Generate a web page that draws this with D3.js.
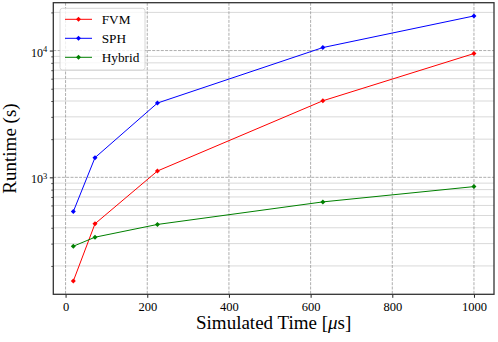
<!DOCTYPE html>
<html>
<head>
<meta charset="utf-8">
<script src="https://cdn.jsdelivr.net/npm/d3@7"></script>
<style>
  body { margin: 0; background: #fff; }
  svg { display: block; font-family: "Liberation Serif", "Times New Roman", serif; }
</style>
</head>
<body>
<div id="chart"></div>
<script>
// simulated time (us) for each run
const simTimes = [19, 72, 225, 630, 1000]
const fvm = [152, 430, 1122, 4017, 9470]
const sph = [537, 1429, 3855, 10560, 18750]
const hybrid = [286, 337, 425, 640, 845]
const xTicks = [0, 200, 400, 600, 800, 1000]
const yMajor = [1e3, 1e4]
const seriesNames = ['FVM', 'SPH', 'Hybrid']
const seriesColors = ['#ff0000', '#0000ff', '#008000']

const W = 498, H = 342
const margin = { top: 2.7, right: 4, bottom: 47.7, left: 53.3 }
const width = W - margin.left - margin.right
const height = H - margin.top - margin.bottom

const series = [fvm, sph, hybrid].map((vals, i) => ({
    name: seriesNames[i],
    color: seriesColors[i],
    points: vals.map((v, j) => ({ x: simTimes[j], y: v }))
}))

// matplotlib-like 5% padding
const xExt = d3.extent(simTimes)
const xPad = (xExt[1] - xExt[0]) * 0.05
const allY = [].concat(fvm, sph, hybrid)
const lyMin = Math.log10(d3.min(allY)), lyMax = Math.log10(d3.max(allY))
const lyPad = (lyMax - lyMin) * 0.05

const x = d3.scaleLinear()
    .domain([xExt[0] - xPad, xExt[1] + xPad])
    .range([0, width])
const y = d3.scaleLog()
    .domain([Math.pow(10, lyMin - lyPad), Math.pow(10, lyMax + lyPad)])
    .range([height, 0])

// minor ticks 2..9 per decade inside the domain
const yMinor = []
for (let e = 1; e <= 5; e++) {
    for (let m = 2; m <= 9; m++) {
        const v = m * Math.pow(10, e)
        if (v >= y.domain()[0] && v <= y.domain()[1]) yMinor.push(v)
    }
}

const svg = d3.select('#chart').append('svg')
    .attr('width', W)
    .attr('height', H)
const g = svg.append('g')
    .attr('transform', 'translate(' + margin.left + ',' + margin.top + ')')

// grid
g.append('g').selectAll('line')
    .data(yMinor).enter().append('line')
    .attr('x1', 0).attr('x2', width)
    .attr('y1', d => y(d)).attr('y2', d => y(d))
    .attr('stroke', '#d9d9d9').attr('stroke-width', 1)

g.append('g').selectAll('line')
    .data(yMajor).enter().append('line')
    .attr('x1', 0).attr('x2', width)
    .attr('y1', d => y(d)).attr('y2', d => y(d))
    .attr('stroke', '#999').attr('stroke-width', 0.8)
    .attr('stroke-dasharray', '3,1.3')

g.append('g').selectAll('line')
    .data(xTicks).enter().append('line')
    .attr('x1', d => x(d)).attr('x2', d => x(d))
    .attr('y1', 0).attr('y2', height)
    .attr('stroke', '#999').attr('stroke-width', 0.8)
    .attr('stroke-dasharray', '3,1.3')

// axes
const xAxis = g.append('g')
    .attr('transform', 'translate(0,' + height + ')')
    .call(d3.axisBottom(x).tickValues(xTicks).tickSize(3.5).tickPadding(4.5).tickFormat(d3.format('d')))
    .attr('font-family', null)
    .attr('font-size', null)
xAxis.select('.domain').remove()
xAxis.selectAll('text').style('font-size', '12.5px').attr('fill', '#000')
xAxis.selectAll('line').attr('stroke', '#222')

const yAxis = g.append('g')
    .call(d3.axisLeft(y).tickValues(yMajor).tickSize(3.5).tickFormat(''))
    .attr('font-family', null)
    .attr('font-size', null)
yAxis.select('.domain').remove()
yAxis.selectAll('line').attr('stroke', '#222')
yAxis.selectAll('.tick').append('text')
    .attr('x', -6)
    .attr('dy', '0.34em')
    .attr('text-anchor', 'end')
    .attr('fill', '#000')
    .each(function (d) {
        const t = d3.select(this)
        t.append('tspan').style('font-size', '12px').text('10')
        t.append('tspan').style('font-size', '8.5px').attr('dy', '-0.55em')
            .text(Math.round(Math.log10(d)))
    })

const yMinorAxis = g.append('g')
    .call(d3.axisLeft(y).tickValues(yMinor).tickSize(2).tickFormat(''))
yMinorAxis.select('.domain').remove()
yMinorAxis.selectAll('line').attr('stroke', '#222').attr('stroke-width', 0.8)

// frame
g.append('rect')
    .attr('width', width).attr('height', height)
    .attr('fill', 'none').attr('stroke', '#333').attr('stroke-width', 1.3)

// lines
const line = d3.line().x(d => x(d.x)).y(d => y(d.y))
const diamond = d3.symbol(d3.symbolSquare, 12.5)

series.forEach(s => {
    g.append('path')
        .datum(s.points)
        .attr('d', line)
        .attr('fill', 'none')
        .attr('stroke', s.color)
        .attr('stroke-width', 1)
    g.append('g').selectAll('path')
        .data(s.points).enter().append('path')
        .attr('d', diamond)
        .attr('transform', d => 'translate(' + x(d.x) + ',' + y(d.y) + ') rotate(45)')
        .attr('fill', s.color)
})

// legend
const legend = svg.append('g').attr('transform', 'translate(60,8.3)')
legend.append('rect')
    .attr('width', 85).attr('height', 61.7)
    .attr('rx', 2.5)
    .attr('fill', '#fff').attr('fill-opacity', 0.8)
    .attr('stroke', '#ccc').attr('stroke-width', 0.8)
series.forEach((s, i) => {
    const row = legend.append('g').attr('transform', 'translate(0,' + (11 + i * 19) + ')')
    row.append('line')
        .attr('x1', 5).attr('x2', 32)
        .attr('stroke', s.color).attr('stroke-width', 1)
    row.append('path')
        .attr('d', diamond)
        .attr('transform', 'translate(18.5,0) rotate(45)')
        .attr('fill', s.color)
    row.append('text')
        .attr('x', 41.7).attr('dy', '0.34em')
        .style('font-size', '13.3px')
        .text(s.name)
})

// axis labels
svg.append('text')
    .attr('x', margin.left + width / 2)
    .attr('y', 328.5)
    .attr('text-anchor', 'middle')
    .style('font-size', '19px')
    .html('Simulated Time [<tspan font-style="italic">μ</tspan>s]')

svg.append('text')
    .attr('transform', 'translate(16,' + (margin.top + height / 2) + ') rotate(-90)')
    .attr('text-anchor', 'middle')
    .style('font-size', '19px')
    .text('Runtime (s)')
</script>
</body>
</html>
